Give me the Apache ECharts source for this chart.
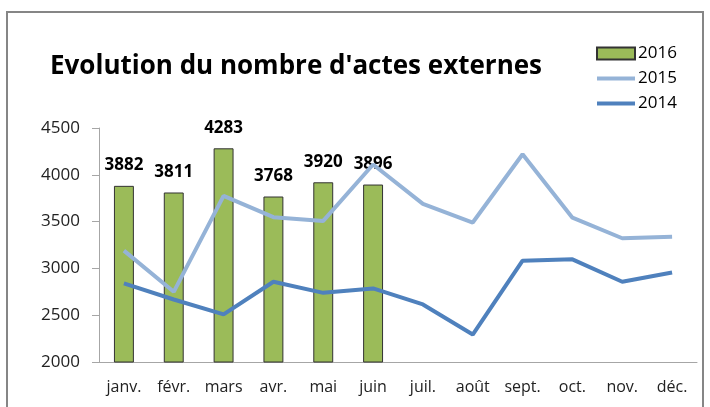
<!DOCTYPE html>
<html>
<head>
<meta charset="utf-8">
<title></title>
<script src="https://cdn.jsdelivr.net/npm/echarts@6/dist/echarts.min.js"></script>
<style>
    html, body { margin: 0; padding: 0; background: #fff; }
    #main { width: 710px; height: 407px; }
</style>
</head>
<body>
<div id="main"></div>
<script>
    var months = ["janv.", "févr.", "mars", "avr.", "mai", "juin", "juil.", "août", "sept.", "oct.", "nov.", "déc."];
    var data2016 = [3882, 3811, 4283, 3768, 3920, 3896];
    var data2015 = [3190, 2750, 3775, 3547, 3507, 4110, 3690, 3490, 4220, 3542, 3322, 3339];
    var data2014 = [2840, 2668, 2508, 2857, 2739, 2786, 2615, 2293, 3082, 3097, 2857, 2957];

    var font = "'Open Sans', sans-serif";
    var chart = echarts.init(document.getElementById("main"));
    chart.setOption({
        animation: false,
        graphic: [{
            type: "rect",
            shape: { x: 7, y: 12, width: 696, height: 430 },
            style: { fill: "none", stroke: "#868686", lineWidth: 2 },
            silent: true
        }],
        title: {
            text: "Evolution du nombre d'actes externes",
            left: 50, top: 54, padding: 0,
            textStyle: { fontFamily: font, fontSize: 26, fontWeight: "bold", color: "#000" }
        },
        legend: {
            orient: "vertical",
            left: 595, top: 45, padding: 0,
            itemWidth: 38, itemHeight: 12, itemGap: 8,
            textStyle: { fontFamily: font, fontSize: 17, lineHeight: 17, color: "#000", padding: [0, 0, 0, -2] },
            data: [
                { name: "2016", icon: "rect" },
                { name: "2015", itemStyle: { opacity: 0 }, lineStyle: { width: 4 } },
                { name: "2014", itemStyle: { opacity: 0 }, lineStyle: { width: 4 } }
            ]
        },
        grid: { left: 99, right: 13, top: 128, bottom: 45 },
        xAxis: {
            type: "category",
            data: months,
            axisLine: { lineStyle: { color: "#a6a6a6", width: 1 } },
            axisTick: { length: 7, lineStyle: { color: "#a6a6a6" } },
            axisLabel: { interval: 0, margin: 17, fontFamily: font, fontSize: 16, color: "#222" }
        },
        yAxis: {
            type: "value",
            min: 2000, max: 4500, interval: 500,
            splitLine: { show: false },
            axisLine: { show: true, lineStyle: { color: "#a6a6a6", width: 1 } },
            axisTick: { show: true, length: 7, lineStyle: { color: "#a6a6a6" } },
            axisLabel: { margin: 19, fontFamily: font, fontSize: 17, color: "#222", formatter: function(v) { return String(v) } }
        },
        series: [{
            name: "2016",
            type: "bar",
            data: data2016,
            barWidth: "40%",
            itemStyle: { color: "#9BBB59", borderColor: "#333", borderWidth: 1 },
            label: {
                show: true, position: "top", distance: 12,
                fontFamily: font, fontSize: 17, fontWeight: "bold", color: "#000"
            },
            z: 1
        }, {
            name: "2015",
            type: "line",
            data: data2015,
            symbol: "none",
            lineStyle: { color: "#95B3D7", width: 4 },
            itemStyle: { color: "#95B3D7" },
            z: 2
        }, {
            name: "2014",
            type: "line",
            data: data2014,
            symbol: "none",
            lineStyle: { color: "#4F81BD", width: 4 },
            itemStyle: { color: "#4F81BD" },
            z: 3
        }]
    });
</script>
</body>
</html>
